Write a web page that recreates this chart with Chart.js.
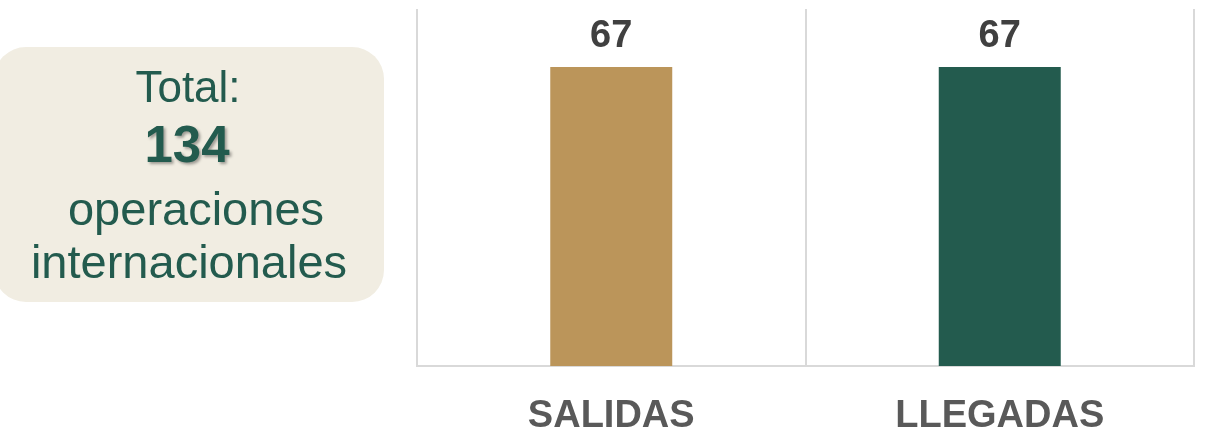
<!DOCTYPE html>
<html>
<head>
<meta charset="utf-8">
<script src="https://cdn.jsdelivr.net/npm/chart.js@4"></script>
<style>
  html, body { margin: 0; padding: 0; background: #ffffff; }
  #wrap { width: 1205px; height: 429px; }
</style>
</head>
<body>
<div id="wrap"><canvas id="myChart" width="1205" height="429"></canvas></div>
<script>
// data
let categories = ["SALIDAS", "LLEGADAS"];
let operaciones = [67, 67];
let totalLines = ["Total:", "operaciones", "internacionales"];

let ctx = document.getElementById("myChart").getContext("2d");
let font = "'Liberation Sans', Arial, sans-serif";

//draws the rounded "Total" box on the left
const totalBox = {
  id: "totalBox",
  beforeDraw(chart) {
    const c = chart.ctx;
    let total = operaciones.reduce((a, b) => a + b, 0);
    c.save();
    c.fillStyle = "#F1EDE2";
    c.beginPath();
    c.roundRect(-6, 47, 390, 255, 32);
    c.fill();

    c.fillStyle = "#235B4E";
    c.textAlign = "center";
    c.textBaseline = "alphabetic";
    c.font = "44px " + font;
    c.fillText(totalLines[0], 188, 102);

    c.save();
    c.shadowColor = "rgba(0,0,0,0.35)";
    c.shadowOffsetX = 2;
    c.shadowOffsetY = 2;
    c.shadowBlur = 3;
    c.font = "bold 51px " + font;
    c.fillText(String(total), 187, 162);
    c.restore();

    c.font = "47px " + font;
    c.fillText(totalLines[1], 196, 225);
    c.fillText(totalLines[2], 189, 278);
    c.restore();
  }
};

//value labels above bars
const valueLabels = {
  id: "valueLabels",
  afterDatasetsDraw(chart) {
    const c = chart.ctx;
    c.save();
    c.fillStyle = "#404040";
    c.font = "bold 38px " + font;
    c.textAlign = "center";
    c.textBaseline = "alphabetic";
    chart.getDatasetMeta(0).data.forEach((bar, i) => {
      c.fillText(operaciones[i], bar.x, bar.y - 20);
    });
    c.restore();
  }
};

let opChart = new Chart(ctx, {
  type: "bar",
  data: {
    labels: categories,
    datasets: [
      {
        data: operaciones,
        backgroundColor: ["#BB955A", "#235B4E"],
        borderWidth: 0,
        categoryPercentage: 1,
        barPercentage: 0.314
      }
    ]
  },
  options: {
    responsive: false,
    animation: false,
    layout: { padding: { left: 417, right: 11, top: 9, bottom: 0 } },
    plugins: {
      legend: { display: false },
      tooltip: { enabled: false }
    },
    scales: {
      x: {
        grid: { color: "#d9d9d9", lineWidth: 2, drawTicks: false },
        border: { color: "#d9d9d9", width: 2 },
        ticks: {
          color: "#595959",
          font: { family: font, size: 38, weight: "bold" },
          padding: 28
        },
        afterFit(scale) { scale.height = 63; }
      },
      y: {
        display: false,
        min: 0,
        max: 80
      }
    }
  },
  plugins: [totalBox, valueLabels]
});
</script>
</body>
</html>
